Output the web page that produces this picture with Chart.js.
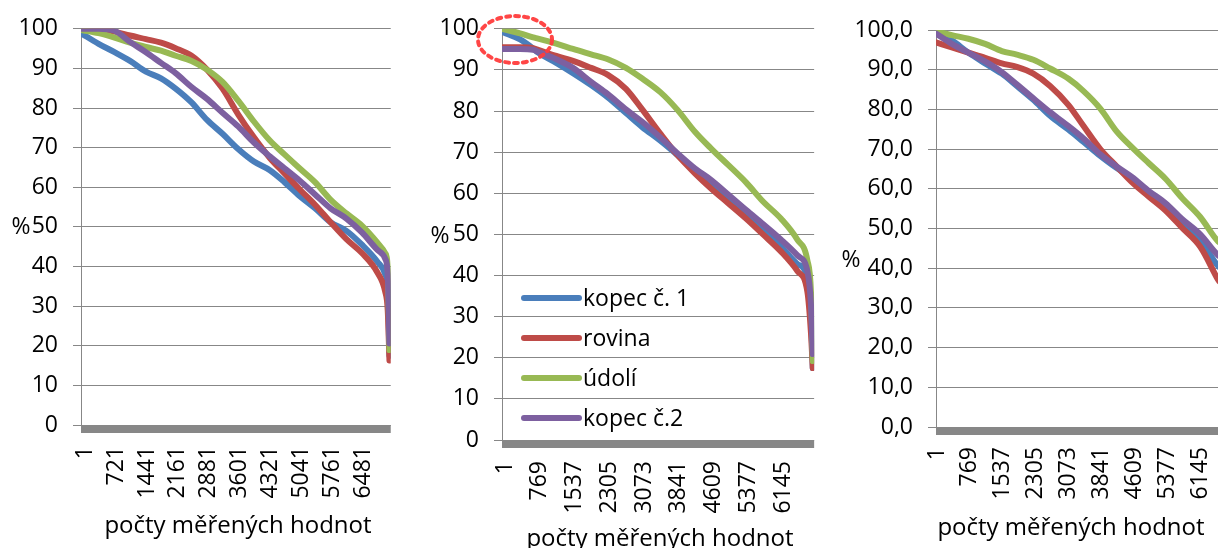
<!DOCTYPE html>
<html>
<head>
<meta charset="utf-8">
<script src="https://cdn.jsdelivr.net/npm/chart.js@4.4.1/dist/chart.umd.min.js"></script>
<style>
  html, body { margin: 0; padding: 0; background: #fff; overflow: hidden; }
  #wrap { position: relative; width: 1218px; height: 548px; overflow: hidden; }
  canvas { position: absolute; top: 0; }
</style>
</head>
<body>
<div id="wrap">
  <canvas id="c1" width="410" height="548" style="left:0px"></canvas>
  <canvas id="c2" width="420" height="548" style="left:410px"></canvas>
  <canvas id="c3" width="420" height="548" style="left:830px"></canvas>
</div>
<script>
// series names
const names = ['kopec č. 1', 'rovina', 'údolí', 'kopec č.2'];
const colors = ['#4a7ebb', '#be4b48', '#98b954', '#7d60a0'];

// graf 1
const x1 = [1, 410, 780, 1140, 1510, 1860, 2200, 2570, 2930, 3290, 3660, 4020, 4390, 4730, 5080, 5440, 5800, 6170, 6530, 6890, 7070, 7130, 7170];
const kopec1_1 = [98.9, 96.2, 94.1, 91.9, 89.2, 87.5, 84.9, 81.4, 77.0, 73.5, 69.6, 66.5, 64.3, 61.3, 57.8, 54.7, 51.2, 49.0, 45.5, 41.2, 38.1, 34.0, 17.5];
const rovina_1 = [100, 100, 99.3, 98.3, 97.4, 96.5, 95.1, 93.2, 89.7, 84.9, 78.3, 72.6, 67.4, 63.5, 59.5, 55.6, 51.2, 46.9, 43.4, 38.5, 33.7, 29.0, 16.3];
const udoli_1 = [99.7, 98.9, 97.8, 96.5, 95.4, 94.5, 93.2, 91.9, 89.7, 86.6, 81.8, 76.6, 71.8, 68.3, 64.8, 61.3, 56.9, 53.4, 50.3, 46.0, 43.4, 40.0, 18.9];
const kopec2_1 = [100, 100, 99.5, 96.7, 94.1, 91.4, 88.8, 85.3, 82.3, 78.8, 75.3, 71.3, 67.8, 64.8, 61.7, 58.2, 54.7, 52.1, 48.6, 44.2, 42.0, 38.0, 20.6];
const xTicks1 = [1, 721, 1441, 2161, 2881, 3601, 4321, 5041, 5761, 6481];
const yTicks1 = ['0', '10', '20', '30', '40', '50', '60', '70', '80', '90', '100'];

// graf 2
const x2 = [1, 400, 690, 800, 1200, 1570, 1970, 2340, 2740, 3100, 3500, 3870, 4270, 4640, 5000, 5400, 5770, 6170, 6530, 6750, 6830, 6870];
const kopec1_2 = [99.3, 97.4, 95.2, 94.2, 91.7, 89.2, 86.3, 83.3, 79.5, 76.1, 72.8, 69.4, 65.6, 62.2, 58.9, 55.1, 51.3, 47.0, 42.8, 39.5, 30.0, 17.5];
const rovina_2 = [95.5, 95.5, 95.3, 94.9, 93.4, 92.2, 90.5, 88.8, 85.4, 80.4, 74.5, 69.4, 64.8, 61.0, 57.6, 53.8, 50.0, 45.8, 41.1, 36.1, 26.0, 17.5];
const udoli_2 = [100, 98.9, 97.9, 97.6, 96.4, 95.1, 93.8, 92.6, 90.5, 87.9, 84.6, 80.4, 74.9, 70.7, 66.9, 62.6, 58.0, 53.8, 48.7, 43.7, 36.0, 19.2];
const kopec2_2 = [95.1, 95.1, 94.9, 94.4, 92.6, 90.5, 87.1, 84.1, 80.4, 77.4, 73.6, 69.8, 66.0, 63.1, 59.7, 55.9, 52.5, 48.7, 44.9, 41.1, 33.0, 20.9];
const xTicks2 = [1, 769, 1537, 2305, 3073, 3841, 4609, 5377, 6145];
const yTicks2 = ['0', '10', '20', '30', '40', '50', '60', '70', '80', '90', '100'];

// graf 3
const x3 = [1, 370, 755, 1145, 1535, 1885, 2270, 2660, 3090, 3440, 3830, 4215, 4565, 4955, 5345, 5735, 6160, 6580, 6750, 6870];
const kopec1_3 = [99.6, 97.4, 94.3, 91.6, 89.0, 85.9, 82.4, 78.4, 74.9, 71.8, 68.3, 65.2, 62.6, 59.0, 55.5, 51.5, 47.1, 40.5, 37.0, 17.5];
const rovina_3 = [96.9, 95.6, 94.3, 93.0, 91.6, 90.7, 89.0, 85.9, 81.1, 75.8, 70.0, 65.6, 61.7, 58.1, 54.6, 50.2, 45.4, 37.0, 33.0, 17.0];
const udoli_3 = [99.7, 98.7, 97.8, 96.5, 94.7, 93.8, 92.5, 90.3, 87.7, 84.6, 80.2, 74.4, 70.5, 66.5, 62.6, 57.7, 52.9, 46.7, 43.0, 19.0];
const kopec2_3 = [99.1, 96.5, 94.3, 92.1, 89.4, 86.3, 82.8, 79.3, 75.8, 72.7, 68.7, 65.6, 63.0, 59.5, 56.4, 52.4, 48.5, 43.2, 40.0, 20.5];
const xTicks3 = [1, 769, 1537, 2305, 3073, 3841, 4609, 5377, 6145];
const yTicks3 = ['0,0', '10,0', '20,0', '30,0', '40,0', '50,0', '60,0', '70,0', '80,0', '90,0', '100,0'];

const xTitle = 'počty měřených hodnot';
const GRID = '#878787';

Chart.defaults.font.family = '"Open Sans", sans-serif';
Chart.defaults.color = '#000';

// sede pasmo pod osou, popisky, legenda, kruh
const decor = {
    id: 'decor',
    beforeDatasetsDraw(chart, args, o) {
        const a = chart.chartArea;
        const ctx = chart.ctx;
        ctx.save();
        ctx.fillStyle = GRID;
        ctx.fillRect(a.left, a.bottom, a.right - a.left, 8);
        ctx.restore();
    },
    afterDraw(chart, args, o) {
        const ctx = chart.ctx;
        ctx.save();
        ctx.fillStyle = '#000';
        ctx.textAlign = 'center';
        ctx.textBaseline = 'alphabetic';
        ctx.font = '24px "Open Sans"';
        ctx.fillText(xTitle, o.titleX, o.titleY);

        ctx.textBaseline = 'middle';
        ctx.font = '23px "Open Sans"';
        ctx.fillText('%', o.pctX, o.pctY);

        if (o.legend) {
            const a = chart.chartArea;
            chart.data.datasets.forEach((ds, i) => {
                const y = o.legendY + i * 40;
                ctx.strokeStyle = ds.borderColor;
                ctx.lineWidth = 6;
                ctx.lineCap = 'round';
                ctx.beginPath();
                ctx.moveTo(a.left + 22, y);
                ctx.lineTo(a.left + 77, y);
                ctx.stroke();
                ctx.textAlign = 'left';
                ctx.textBaseline = 'alphabetic';
                ctx.fillStyle = '#000';
                ctx.font = '23px "Open Sans"';
                ctx.fillText(ds.label, a.left + 81, y + 8);
            });
        }

        if (o.ring) {
            ctx.strokeStyle = 'rgba(255, 60, 60, 0.95)';
            ctx.lineWidth = 4;
            ctx.setLineDash([4, 5]);
            ctx.beginPath();
            ctx.ellipse(o.ring.x, o.ring.y, o.ring.rx, o.ring.ry, 0, 0, Math.PI * 2);
            ctx.stroke();
        }
        ctx.restore();
    }
};

function makeChart(id, xs, series, xTicks, yTicks, xMax, box, deco) {
    const datasets = series.map((s, i) => ({
        label: names[i],
        data: xs.map((x, j) => ({ x: x, y: s[j] })),
        borderColor: colors[i],
        backgroundColor: colors[i],
        borderWidth: 6,
        pointRadius: 0,
        borderCapStyle: 'round',
        borderJoinStyle: 'round',
        cubicInterpolationMode: 'monotone',
        tension: 0.4,
        order: 3 - i
    }));

    return new Chart(document.getElementById(id), {
        type: 'line',
        data: { datasets: datasets },
        options: {
            responsive: false,
            animation: false,
            devicePixelRatio: 1,
            layout: { padding: { left: 0, top: box.top, right: box.right, bottom: 0 } },
            plugins: {
                legend: { display: false },
                tooltip: { enabled: false },
                decor: deco
            },
            scales: {
                x: {
                    type: 'linear',
                    min: 1,
                    max: xMax,
                    grid: { display: false, drawTicks: false },
                    border: { display: false },
                    afterBuildTicks: (s) => { s.ticks = xTicks.map(v => ({ value: v })); },
                    afterFit: (s) => { s.height = box.xh; },
                    ticks: {
                        autoSkip: false,
                        maxRotation: 90,
                        minRotation: 90,
                        padding: box.xpad,
                        labelOffset: box.xoff,
                        font: { size: 23 },
                        callback: (v, i) => String(xTicks[i])
                    }
                },
                y: {
                    min: 0,
                    max: 100,
                    afterFit: (s) => { s.width = box.left; },
                    grid: { color: GRID, lineWidth: 1, tickLength: 8 },
                    border: { color: GRID, width: 1 },
                    ticks: {
                        stepSize: 10,
                        padding: 15,
                        font: { size: 23 },
                        callback: (v, i) => yTicks[i]
                    }
                }
            }
        },
        plugins: [decor]
    });
}

makeChart('c1', x1, [kopec1_1, rovina_1, udoli_1, kopec2_1], xTicks1, yTicks1, 7200,
    { left: 81, top: 25, right: 16, xh: 123, xpad: 21, xoff: 4 },
    { titleX: 238, titleY: 533, pctX: 21, pctY: 227 });

makeChart('c2', x2, [kopec1_2, rovina_2, udoli_2, kopec2_2], xTicks2, yTicks2, 6900,
    { left: 92, top: 25, right: 13, xh: 108, xpad: 21, xoff: 3 },
    { titleX: 250, titleY: 546, pctX: 30, pctY: 236, legend: true, legendY: 298,
      ring: { x: 105, y: 39.5, rx: 37, ry: 23.5 } });

makeChart('c3', x3, [kopec1_3, rovina_3, udoli_3, kopec2_3], xTicks3, yTicks3, 6900,
    { left: 106, top: 30, right: 18, xh: 121, xpad: 20, xoff: 1 },
    { titleX: 241, titleY: 535, pctX: 21, pctY: 260 });
</script>
</body>
</html>
